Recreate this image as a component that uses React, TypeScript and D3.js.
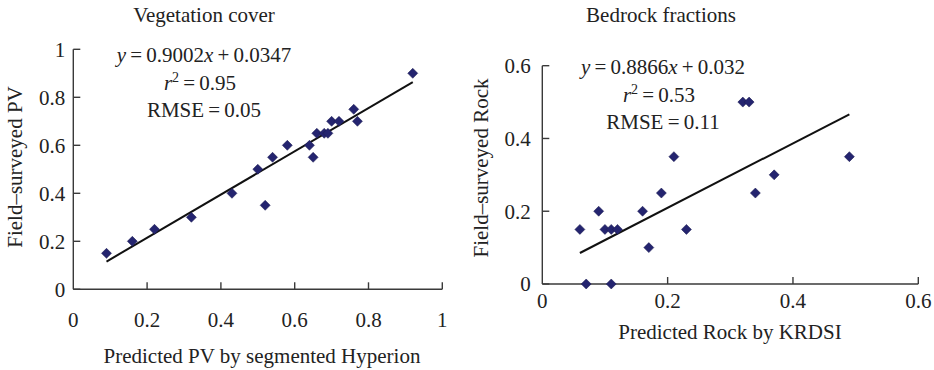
import React from "react";
import * as d3 from "d3";

// Vegetation cover: predicted (segmented Hyperion) vs field-surveyed PV
const pvPredicted = [0.09, 0.16, 0.22, 0.32, 0.43, 0.5, 0.52, 0.54, 0.58, 0.64, 0.65, 0.66, 0.68, 0.69, 0.7, 0.72, 0.76, 0.77, 0.92];
const pvSurveyed = [0.15, 0.2, 0.25, 0.3, 0.4, 0.5, 0.35, 0.55, 0.6, 0.6, 0.55, 0.65, 0.65, 0.65, 0.7, 0.7, 0.75, 0.7, 0.9];

// Bedrock fractions: predicted (KRDSI) vs field-surveyed rock
const rockPredicted = [0.06, 0.07, 0.09, 0.1, 0.11, 0.11, 0.12, 0.16, 0.17, 0.19, 0.21, 0.23, 0.32, 0.33, 0.34, 0.37, 0.49];
const rockSurveyed = [0.15, 0, 0.2, 0.15, 0.15, 0, 0.15, 0.2, 0.1, 0.25, 0.35, 0.15, 0.5, 0.5, 0.25, 0.3, 0.35];

const pvTicks = [0, 0.2, 0.4, 0.6, 0.8, 1];
const rockTicks = [0, 0.2, 0.4, 0.6];

const pvFit = { slope: 0.9002, intercept: 0.0347 };
const rockFit = { slope: 0.8866, intercept: 0.032 };

const pvNotes = ["0.9002", "0.0347", "0.95", "0.05"];
const rockNotes = ["0.8866", "0.032", "0.53", "0.11"];

const FONT = "'Liberation Serif', 'Times New Roman', serif";
const FS = 21;
const MARK = "#24246f";
const AXIS = "#3a3a3a";
const sp = "\u2009";

const diamond = d3.symbol(d3.symbolSquare, 50)();

function Panel({ xs, ys, ticks, fit, notes, title, xLabel, yLabel, box, layout }) {
  const x = d3.scaleLinear().domain([0, ticks[ticks.length - 1]]).range([box.left, box.right]);
  const y = d3.scaleLinear().domain([0, ticks[ticks.length - 1]]).range([box.bottom, box.top]);
  const fmt = d => (d === 0 ? "0" : d === 1 ? "1" : d3.format(".1f")(d));
  const [x0, x1] = d3.extent(xs);
  const line = d3.line()([
    [x(x0), y(fit.slope * x0 + fit.intercept)],
    [x(x1), y(fit.slope * x1 + fit.intercept)]
  ]);
  const cx = layout.noteX;
  return (
    <g fontFamily={FONT} fontSize={FS} fill="#222">
      <text x={layout.titleX} y={22} textAnchor="middle">{title}</text>

      {/* axes */}
      <line x1={x(0)} x2={x(0)} y1={y.range()[1]} y2={y(0)} stroke={AXIS} strokeWidth={1.4} />
      <line x1={x(0)} x2={x.range()[1]} y1={y(0)} y2={y(0)} stroke={AXIS} strokeWidth={1.4} />
      {ticks.map(t => (
        <g key={"y" + t}>
          <line x1={x(0)} x2={x(0) + 7} y1={y(t)} y2={y(t)} stroke={AXIS} strokeWidth={1.4} />
          <text x={x(0) - layout.yTickGap} y={y(t)} dy="0.35em" textAnchor="end">{fmt(t)}</text>
        </g>
      ))}
      {ticks.map(t => (
        <g key={"x" + t}>
          {t > 0 && <line x1={x(t)} x2={x(t)} y1={y(0)} y2={y(0) - 7} stroke={AXIS} strokeWidth={1.4} />}
          <text x={x(t)} y={layout.xTickY} textAnchor="middle">{fmt(t)}</text>
        </g>
      ))}

      <text x={layout.xLabelX} y={layout.xLabelY} textAnchor="middle">{xLabel}</text>
      <text transform={`translate(${layout.yLabelX},${layout.yLabelY}) rotate(-90)`} textAnchor="middle">{yLabel}</text>

      <path d={line} stroke="#111" strokeWidth={2} fill="none" />

      {xs.map((v, i) => (
        <path
          key={i}
          d={diamond}
          transform={`translate(${x(v)},${y(ys[i])}) rotate(45)`}
          fill={MARK}
          stroke="#1a1a50"
          strokeWidth={0.5}
        />
      ))}

      <text x={cx} y={layout.noteY[0]} textAnchor="middle">
        <tspan fontStyle="italic">y</tspan>{sp}={sp}{notes[0]}<tspan fontStyle="italic">x</tspan>{sp}+{sp}{notes[1]}
      </text>
      <text x={cx - 4} y={layout.noteY[1]} textAnchor="middle">
        <tspan fontStyle="italic">r</tspan><tspan fontSize={14} dy={-8}>2</tspan><tspan dy={8}>{sp}={sp}{notes[2]}</tspan>
      </text>
      <text x={cx} y={layout.noteY[2]} textAnchor="middle">RMSE{sp}={sp}{notes[3]}</text>
    </g>
  );
}

export default function App() {
  return (
    <svg width={934} height={370} style={{ position: "absolute", left: 0, top: 0, background: "#fff" }}>
      <Panel
        xs={pvPredicted}
        ys={pvSurveyed}
        ticks={pvTicks}
        fit={pvFit}
        notes={pvNotes}
        title="Vegetation cover"
        xLabel="Predicted PV by segmented Hyperion"
        yLabel="Field–surveyed PV"
        box={{ left: 73.3, right: 442.3, top: 49.3, bottom: 289.3 }}
        layout={{ titleX: 204, noteX: 204, noteY: [61.7, 90, 117], yTickGap: 8, xTickY: 326.7, xLabelX: 262, xLabelY: 362.7, yLabelX: 22, yLabelY: 167 }}
      />
      <Panel
        xs={rockPredicted}
        ys={rockSurveyed}
        ticks={rockTicks}
        fit={rockFit}
        notes={rockNotes}
        title="Bedrock fractions"
        xLabel="Predicted Rock by KRDSI"
        yLabel="Field–surveyed Rock"
        box={{ left: 542.3, right: 918.3, top: 65.7, bottom: 284 }}
        layout={{ titleX: 661, noteX: 663, noteY: [74, 101.7, 129], yTickGap: 11.6, xTickY: 308.3, xLabelX: 730, xLabelY: 339.3, yLabelX: 488, yLabelY: 168 }}
      />
    </svg>
  );
}
